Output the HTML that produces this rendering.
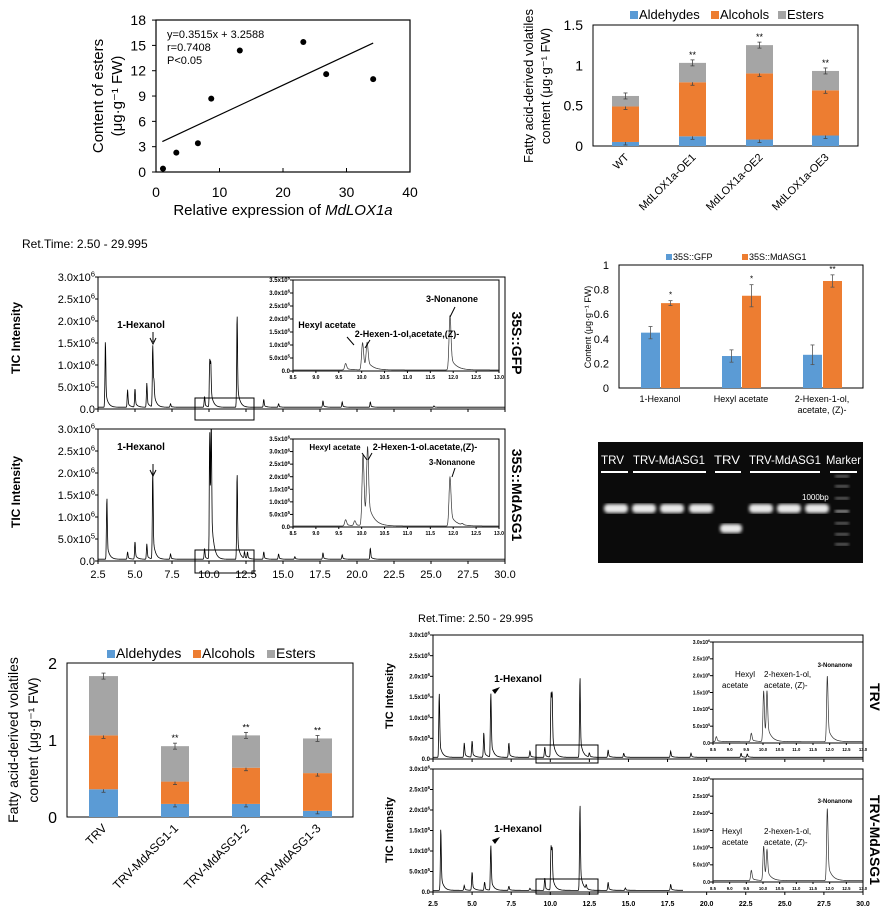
<!DOCTYPE html>
<html><head><meta charset="utf-8"><style>
html,body{margin:0;padding:0;background:#fff;}
svg{display:block;font-family:"Liberation Sans",Arial,sans-serif;}
</style></head><body>
<svg id="s" width="892" height="918" viewBox="0 0 892 918" xmlns="http://www.w3.org/2000/svg">
<rect width="892" height="918" fill="#fff"/>
<rect x="598" y="442" width="265" height="121" fill="#0b0b0b"/>
</svg>
<script>
var S=document.getElementById('s'),NS='http://www.w3.org/2000/svg';
function E(tag,a,txt){var e=document.createElementNS(NS,tag);for(var k in a)e.setAttribute(k,a[k]);if(txt!=null)e.textContent=txt;S.appendChild(e);return e;}
function T(x,y,s,fs,o){o=o||{};var a={x:x,y:y,'font-size':fs,fill:o.fill||'#000'};if(o.anchor)a['text-anchor']=o.anchor;if(o.bold)a['font-weight']='bold';if(o.rot!=null)a.transform='rotate('+o.rot+' '+x+' '+y+')';if(o.italic)a['font-style']='italic';if(o.len){a.textLength=o.len;a.lengthAdjust='spacingAndGlyphs';}return E('text',a,s);}
function L(x1,y1,x2,y2,c,w){return E('line',{x1:x1,y1:y1,x2:x2,y2:y2,stroke:c||'#000','stroke-width':w||1});}
function R(x,y,w,h,f,st,sw){return E('rect',{x:x,y:y,width:w,height:h,fill:f||'none',stroke:st||'none','stroke-width':sw||1});}
function sci(x,y,m,ex,fs,bold){var t=T(x,y,'',fs,{anchor:'end',bold:bold});var a=document.createElementNS(NS,'tspan');a.textContent=m+'x10';t.appendChild(a);var b=document.createElementNS(NS,'tspan');b.setAttribute('dy',-fs*0.4);b.setAttribute('font-size',fs*0.7);b.textContent=ex;t.appendChild(b);return t;}

/* ---------- Scatter ---------- */
R(156,20,254,152,'none','#000',1.2);
for(var i=0;i<=6;i++){var y=172-i*3*8.44;T(146,y+5,String(i*3),14,{anchor:'end'});L(156,y,152,y);}
for(var i=0;i<=4;i++){var x=156+i*10*6.35;T(x,197,String(i*10),14,{anchor:'middle'});L(x,172,x,168);}
var tt=T(283,215,'Relative expression of ',15,{anchor:'middle'});var ti=document.createElementNS(NS,'tspan');ti.setAttribute('font-style','italic');ti.textContent='MdLOX1a';tt.appendChild(ti);
T(103,96,'Content of esters',15,{anchor:'middle',rot:-90});
T(122,96,'(μg·g⁻¹ FW)',15,{anchor:'middle',rot:-90});
T(167,38,'y=0.3515x + 3.2588',11);T(167,51,'r=0.7408',11);T(167,64,'P<0.05',11);
L(156+1*6.35,172-3.61*8.44,156+34.2*6.35,172-15.28*8.44,'#000',1.2);
[[1.1,0.4],[3.2,2.3],[6.6,3.4],[8.7,8.7],[13.2,14.4],[23.2,15.4],[26.8,11.6],[34.2,11]].forEach(function(p){E('circle',{cx:156+p[0]*6.35,cy:172-p[1]*8.44,r:3,fill:'#000'});});

/* ---------- stacked bars ---------- */
var BL='#5b9bd5',OR='#ed7d31',GR='#a5a5a5';
function stack(cfg){
 var b=cfg.box;R(b[0],b[1],b[2]-b[0],b[3]-b[1],'none','#000',1);
 cfg.bars.forEach(function(br,i){var x=br[0],w=br[1],v=br[2];var prev=0;[BL,OR,GR].forEach(function(c,j){var y1=b[3]-v[j]*cfg.k,y0=b[3]-prev*cfg.k;R(x,y1,w,y0-y1,c);prev=v[j];
  var cx=x+w/2;L(cx,y1-3,cx,y1+3,'#444',0.8);L(cx-2,y1-3,cx+2,y1-3,'#444',0.8);L(cx-2,y1+3,cx+2,y1+3,'#444',0.8);});
  if(br[3])T(x+w/2,b[3]-v[2]*cfg.k-5,'**',9,{anchor:'middle'});
  T(x+w/2+4,b[3]+12,br[4],cfg.xfs,{anchor:'end',rot:-45});
 });
}
stack({box:[593,25,858,146],k:80.7,xfs:11,bars:[[612,27,[0.05,0.49,0.62],0,'WT'],[679,27,[0.12,0.79,1.03],1,'MdLOX1a-OE1'],[746,27,[0.08,0.90,1.25],1,'MdLOX1a-OE2'],[812,27,[0.13,0.69,0.93],1,'MdLOX1a-OE3']]});
[['1.5',25],['1',65.3],['0.5',105.7],['0',146]].forEach(function(a){T(583,a[1]+5,a[0],14,{anchor:'end'});});
T(533,86,'Fatty acid-derived volatiles',13,{anchor:'middle',rot:-90});
T(550,86,'content (μg·g⁻¹ FW)',13,{anchor:'middle',rot:-90});
function legend(x,y,fs,items){items.forEach(function(it){R(it[0],y-8,8,8,it[1]);T(it[0]+9,y,it[2],fs);});}
legend(0,19,13,[[630,BL,'Aldehydes'],[711,OR,'Alcohols'],[778,GR,'Esters']]);

stack({box:[67,663,353,817],k:77,xfs:12,bars:[[89,29,[0.36,1.06,1.83],0,'TRV'],[161,28,[0.17,0.46,0.92],1,'TRV-MdASG1-1'],[232,28,[0.17,0.64,1.06],1,'TRV-MdASG1-2'],[303,29,[0.08,0.57,1.02],1,'TRV-MdASG1-3']]});
[['2',663],['1',740],['0',817]].forEach(function(a){T(57,a[1]+6,a[0],16,{anchor:'end'});});
T(18,740,'Fatty acid-derived volatiles',14,{anchor:'middle',rot:-90});
T(38,740,'content (μg·g⁻¹ FW)',14,{anchor:'middle',rot:-90});
legend(0,658,14,[[107,BL,'Aldehydes'],[193,OR,'Alcohols'],[267,GR,'Esters']]);

/* ---------- grouped bars ---------- */
R(619,265,244,123,'none','#000',1);
for(var i=0;i<=5;i++){var y=388-i*0.2*123;T(609,y+4,(i==0?'0':i==5?'1':(i*0.2).toFixed(1)),11,{anchor:'end'});}
[[641,0.45,0.05],[661,0.69,0.02],[722,0.26,0.05],[742,0.75,0.09],[803,0.27,0.08],[823,0.87,0.05]].forEach(function(b,i){var y=388-b[1]*123;R(b[0],y,19,388-y,i%2?OR:BL);var cx=b[0]+9.5,e=b[2]*123;L(cx,y-e,cx,y+e,'#555',0.8);L(cx-2,y-e,cx+2,y-e,'#555',0.8);L(cx-2,y+e,cx+2,y+e,'#555',0.8);
 if(i%2)T(cx,y-e-3,i==5?'**':'*',8,{anchor:'middle'});});
T(660,402,'1-Hexanol',9,{anchor:'middle'});T(741,402,'Hexyl acetate',9,{anchor:'middle'});T(822,402,'2-Hexen-1-ol,',9,{anchor:'middle'});T(822,413,'acetate, (Z)-',9,{anchor:'middle'});
T(591,327,'Content (μg·g⁻¹ FW)',9,{anchor:'middle',rot:-90});
R(666,254,6,6,BL);T(673,260,'35S::GFP',9);R(742,254,6,6,OR);T(749,260,'35S::MdASG1',9);

/* ---------- gel ---------- */
[['TRV',601,23],['TRV-MdASG1',633,72],['TRV',714,26],['TRV-MdASG1',749,72],['Marker',826,35]].forEach(function(a){T(a[1],464,a[0],12,{fill:'#fff',len:a[2]});});
[[601,628],[633,706],[715,741],[750,820],[830,857]].forEach(function(a){L(a[0],472,a[1],472,'#fff',2);});
T(802,500,'1000bp',8,{fill:'#fff'});
var defs=E('defs',{});defs.innerHTML='<filter id="bl"><feGaussianBlur stdDeviation="1.6"/></filter>';
[604,632,660,689,749,777,805].forEach(function(x){E('rect',{x:x,y:504,width:24,height:9,rx:4,fill:'#e8e8e8',filter:'url(#bl)'});});
E('rect',{x:720,y:524,width:22,height:9,rx:4,fill:'#e8e8e8',filter:'url(#bl)'});
[475,485,497,510,522,533,543].forEach(function(y,i){E('rect',{x:835,y:y,width:14,height:2.5,fill:i==3?'#bbb':'#777',filter:'url(#bl)'});});

/* ---------- chromatograms ---------- */
function trace(x0,x1,tmin,tmax,yb,yt,vmax,peaks,base,tend,w,col,sw){
 var d='',kx=(x1-x0)/(tmax-tmin),ky=(yb-yt)/vmax;tend=tend||tmax;
 for(var t=tmin;t<=tend;t+=(tmax-tmin)/1500){var v=base;peaks.forEach(function(p){var dt=t-p[0];v+=dt<0?p[1]*Math.exp(-dt*dt/(w*w)):p[1]*(0.75*Math.exp(-dt*dt/(w*w))+0.25*Math.exp(-dt/(w*4)));});
  v=Math.min(v,vmax*1.0);d+=(d?'L':'M')+(x0+(t-tmin)*kx).toFixed(1)+','+(yb-v*ky).toFixed(1);}
 E('path',{d:d,fill:'none',stroke:col||'#000','stroke-width':sw||0.8});
}
function axes(x0,x1,yb,yt,yticks,fs,bold,xt){
 R(x0,yt,x1-x0,yb-yt,'none','#000',1);
 yticks.forEach(function(a){var y=yb-(yb-yt)*a[0];L(x0,y,x0-3,y);if(a[2]==null)T(x0-3,y+fs*0.35,a[1],fs,{anchor:'end',bold:bold});else sci(x0-3,y+fs*0.35,a[1],a[2],fs,bold);});
 if(xt)xt.forEach(function(a){L(a,yb,a,yb+3);});
}
var mainTicks=[[0,'0.0'],[1/6,'5.0',5],[2/6,'1.0',6],[3/6,'1.5',6],[4/6,'2.0',6],[5/6,'2.5',6],[1,'3.0',6]];
function xs(x0,x1){var r=[];for(var i=0;i<=11;i++)r.push(x0+i*(x1-x0)/11);return r;}

axes(98,505,409,277,mainTicks,11,false,xs(98,505));
trace(98,505,2.5,30,409,277,3.0,[[3.0,1.5],[4.5,0.4],[5.0,0.42],[5.8,0.55],[6.2,1.4],[6.28,0.4],[7.4,0.08],[9.7,0.25],[10.05,1.05],[10.12,0.85],[11.9,2.1],[13.7,0.18],[14.7,0.08],[17.7,0.15],[19,0.12],[20.9,0.12],[25.2,0.03]],0.04,30,0.04);
R(195,398,59,22,'none','#000',1);
T(141,328,'1-Hexanol',10,{anchor:'middle',bold:1});E('path',{d:'M153,332 L153,342 M150,338 L153,344 L156,338',stroke:'#000',fill:'none','stroke-width':1});
T(20,338,'TIC Intensity',12,{anchor:'middle',bold:1,rot:-90});
T(512,343,'35S::GFP',14,{anchor:'middle',bold:1,rot:90});
var inT=[[0,'0.0'],[1/7,'5.0',5],[2/7,'1.0',6],[3/7,'1.5',6],[4/7,'2.0',6],[5/7,'2.5',6],[6/7,'3.0',6],[1,'3.5',6]];
function inset(x0,x1,yb,yt,ticks,peaks,fsY,xlabs){R(x0,yt,x1-x0,yb-yt,'#fff','none');axes(x0,x1,yb,yt,ticks,fsY,true);
 xlabs.forEach(function(l,i){var x=x0+i*(x1-x0)/(xlabs.length-1);L(x,yb,x,yb+2);T(x,yb+8,l,fsY*0.85,{anchor:'middle',bold:1});});
 trace(x0,x1,8.5,13,yb,yt,ticks.length==8?3.5:3.0,peaks,0.04,13,0.03,'#333',0.7);}
var ilab=['8.5','9.0','9.5','10.0','10.5','11.0','11.5','12.0','12.5','13.0'];
inset(293,499,371,280,inT,[[9.65,0.25],[10.02,1.05],[10.12,0.95],[11.93,2.1]],6,ilab);
T(327,328,'Hexyl acetate',9,{anchor:'middle',bold:1});T(407,337,'2-Hexen-1-ol,acetate,(Z)-',9,{anchor:'middle',bold:1});T(452,302,'3-Nonanone',9,{anchor:'middle',bold:1});
E('path',{d:'M347,337 L354,345 M370,340 L365,348 M455,307 L450,317',stroke:'#000','stroke-width':1});

axes(98,505,561,429,mainTicks,11,false,xs(98,505));
trace(98,505,2.5,30,561,429,3.0,[[3.1,1.4],[4.5,0.17],[5.0,0.4],[5.8,0.35],[6.2,2.0],[7.4,0.12],[9.7,0.25],[10.05,2.9],[10.15,2.9],[11.9,1.95],[12.4,0.15],[12.6,0.15],[13.7,0.17],[14.7,0.12],[15.8,0.06],[17.7,0.15],[19,0.1],[20.9,0.25]],0.04,30,0.04);
R(195,550,59,23,'none','#000',1);
T(141,450,'1-Hexanol',10,{anchor:'middle',bold:1});E('path',{d:'M153,464 L153,474 M150,470 L153,476 L156,470',stroke:'#000',fill:'none','stroke-width':1});
T(20,492,'TIC Intensity',12,{anchor:'middle',bold:1,rot:-90});
T(512,495,'35S::MdASG1',14,{anchor:'middle',bold:1,rot:90});
inset(293,499,527,439,inT,[[9.65,0.25],[9.85,0.2],[10.03,2.85],[10.13,2.85],[11.93,1.95],[12.2,0.05]],6,ilab);
T(335,450,'Hexyl acetate',8,{anchor:'middle',bold:1});T(425,450,'2-Hexen-1-ol.acetate,(Z)-',9,{anchor:'middle',bold:1});T(452,465,'3-Nonanone',8,{anchor:'middle',bold:1});
E('path',{d:'M362,453 L367,460 M372,453 L368,460 M455,468 L452,477',stroke:'#000','stroke-width':1});
['2.5','5.0','7.5','10.0','12.5','15.0','17.5','20.0','22.5','25.0','27.5','30.0'].forEach(function(l,i){T(98+i*37,578,l,11,{anchor:'middle'});});
T(22,248,'Ret.Time: 2.50 - 29.995',12);

var sm=[[0,'0.0'],[1/6,'5.0',5],[2/6,'1.0',6],[3/6,'1.5',6],[4/6,'2.0',6],[5/6,'2.5',6],[1,'3.0',6]];
axes(433,863,759,635,sm,6,true,xs(433,863));
trace(433,863,2.5,30,759,635,3.0,[[2.9,1.55],[4.5,0.35],[5.0,0.4],[5.75,0.6],[6.2,1.55],[7.35,0.35],[8.7,0.15],[9.65,0.25],[10.05,1.5],[10.12,1.3],[11.9,1.95],[12.5,0.1],[13.7,0.18],[14.7,0.1],[17.7,0.15],[19,0.1],[22.2,0.1],[22.6,0.08]],0.04,30,0.04);
R(536,745,62,18,'none','#000',1);
T(518,682,'1-Hexanol',10,{anchor:'middle',bold:1});E('path',{d:'M492,690 L500,687 L495,694 Z',fill:'#000'});
T(393,696,'TIC Intensity',11,{anchor:'middle',bold:1,rot:-90});
T(870,697,'TRV',14,{anchor:'middle',bold:1,rot:90});
var ilab2=['8.5','9.0','9.5','10.0','10.5','11.0','11.5','12.0','12.5','13.0'];
inset(713,863,743,642,sm,[[8.6,0.15],[9.65,0.25],[10.02,1.5],[10.12,1.35],[11.93,1.95]],5,ilab2);
T(735,677,'Hexyl',8);T(722,688,'acetate',8);T(764,677,'2-hexen-1-ol,',8);T(764,688,'acetate, (Z)-',8);T(835,667,'3-Nonanone',6,{anchor:'middle',bold:1});

axes(433,863,892,769,sm,6,true,xs(433,863));
trace(433,863,2.5,30,892,769,3.0,[[3.0,1.5],[4.5,0.12],[5.0,0.45],[5.8,0.2],[6.2,1.1],[7.35,0.1],[8.7,0.05],[9.65,0.3],[10.05,1.05],[10.12,0.85],[11.9,2.1],[12.3,0.1],[13.7,0.2],[14.8,0.06],[17.7,0.15]],0.04,18.5,0.04);
R(536,879,62,15,'none','#000',1);
T(518,832,'1-Hexanol',10,{anchor:'middle',bold:1});E('path',{d:'M492,840 L500,837 L495,844 Z',fill:'#000'});
T(393,830,'TIC Intensity',11,{anchor:'middle',bold:1,rot:-90});
T(870,840,'TRV-MdASG1',14,{anchor:'middle',bold:1,rot:90});
inset(713,863,882,779,sm,[[9.65,0.3],[10.02,1.0],[10.12,0.8],[11.93,2.1]],5,ilab2);
T(722,834,'Hexyl',8);T(722,845,'acetate',8);T(764,834,'2-hexen-1-ol,',8);T(764,845,'acetate, (Z)-',8);T(835,803,'3-Nonanone',6,{anchor:'middle',bold:1});
['2.5','5.0','7.5','10.0','12.5','15.0','17.5','20.0','22.5','25.0','27.5','30.0'].forEach(function(l,i){T(433+i*(430/11),906,l,7,{anchor:'middle',bold:1});});
T(418,622,'Ret.Time: 2.50 - 29.995',11);
</script>
</body></html>
